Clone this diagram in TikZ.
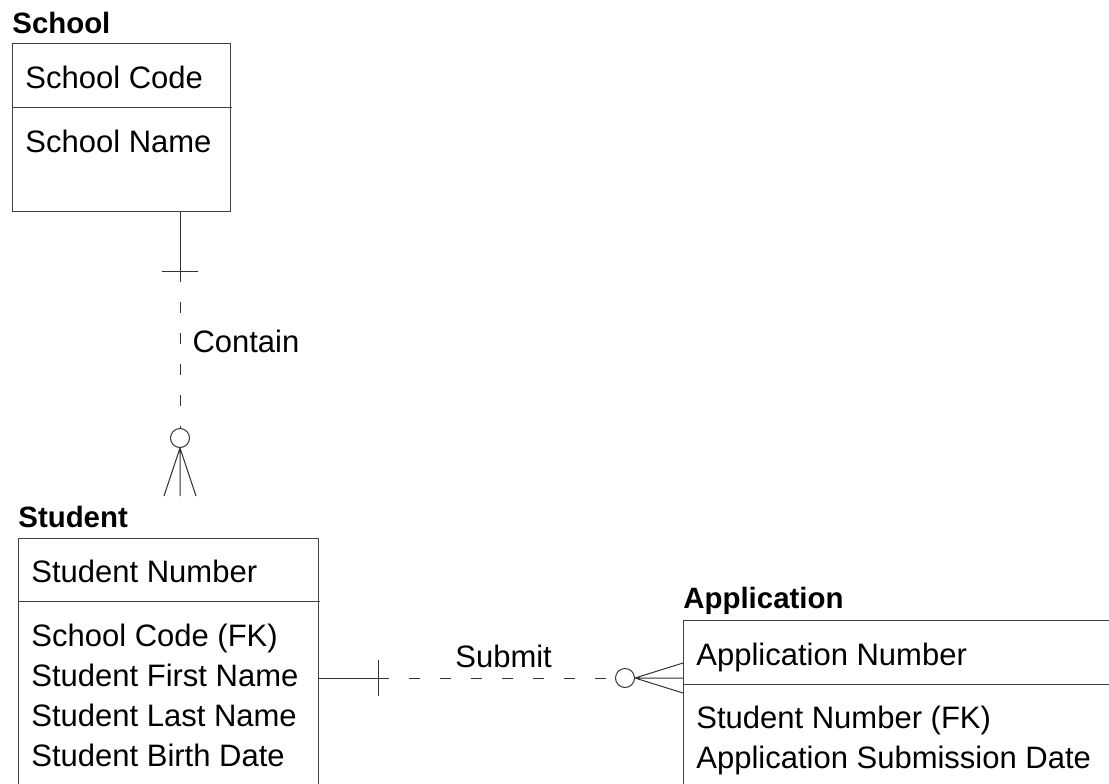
\documentclass[tikz,border=0pt]{standalone}
\usepackage{fontspec}
\setmainfont{Liberation Sans}
\usetikzlibrary{positioning}

\begin{document}
\begin{tikzpicture}[x=0.5pt, y=-0.5pt, every node/.style={font=\fontsize{15.5}{18}\selectfont}]

  \tikzstyle{entity}=[draw=black!75, line width=0.5pt, anchor=north west, inner sep=0pt]
  \tikzstyle{entname}=[anchor=base west, inner sep=0pt, font=\bfseries\fontsize{14.7}{17}\selectfont]
  \tikzstyle{attr}=[anchor=base west, inner sep=0pt]
  \tikzstyle{rel}=[draw=black!80, line width=0.5pt]
  \tikzstyle{link}=[rel, dash pattern=on 5.5pt off 10pt]
  \tikzstyle{ring}=[rel, circle, minimum size=9.5pt, inner sep=0pt, fill=white]

  \useasboundingbox (0,0) rectangle (1109,783);
  \clip (0,0) rectangle (1109,783);

  \node [entity, minimum width=109pt, minimum height=84pt] (school) at (12,43) {};
  \node [entity, minimum width=150pt, minimum height=130pt] (student) at (18,538) {};
  \node [entity, minimum width=220pt, minimum height=100pt] (application) at (683,620) {};

  \node [entname] (school-title) at ([yshift=5pt]school.north west) {School};
  \node [entname] (student-title) at ([yshift=5.5pt]student.north west) {Student};
  \node [entname] (application-title) at ([yshift=6pt]application.north west) {Application};

  \draw [entity] ([yshift=-32pt]school.north west) -- ++(220,0);
  \draw [entity] ([yshift=-31.5pt]student.north west) -- ++(302,0);
  \draw [entity] ([yshift=-32pt]application.north west) -- ++(440,0);

  \node [attr] (school-key) at ([xshift=6.5pt, yshift=-22.5pt]school.north west) {School Code};
  \node [attr] (school-att-1) at ([xshift=6.5pt, yshift=-54.5pt]school.north west) {School Name};

  \node [attr] (student-key) at ([xshift=6.5pt, yshift=-22pt]student.north west) {Student Number};
  \foreach \t [count=\i] in {School Code (FK), Student First Name, Student Last Name, Student Birth Date} {
    \node [attr] (student-att-\i) at ([xshift=6.5pt, yshift={-54pt-20pt*(\i-1)}]student.north west) {\t};
  }

  \node [attr] (application-key) at ([xshift=6.5pt, yshift=-22.5pt]application.north west) {Application Number};
  \foreach \t [count=\i] in {Student Number (FK), Application Submission Date} {
    \node [attr] (application-att-\i) at ([xshift=6.5pt, yshift={-54pt-20pt*(\i-1)}]application.north west) {\t};
  }

  \coordinate (contain-a) at ([xshift=84pt]school.south west);
  \coordinate (contain-b) at ([xshift=81pt, yshift=21pt]student.north west);
  \node [ring] (contain-o) at ([yshift=29pt]contain-b) {};

  \draw [rel] (contain-a) -- ++(0,59) coordinate (contain-bar) ++(-18,0) -- ++(36,0);
  \draw [link] (contain-bar) -- (contain-o) node [pos=0.45, right=6pt, inner sep=0pt] {Contain};
  \draw [rel] (contain-o.south) -- (contain-b)
    (contain-o.south) -- ([xshift=-8pt]contain-b)
    (contain-o.south) -- ([xshift=8pt]contain-b);

  \coordinate (submit-a) at ([yshift=-70pt]student.north east);
  \coordinate (submit-b) at ([yshift=-29pt]application.north west);
  \node [ring] (submit-o) at ([xshift=-29pt]submit-b) {};

  \draw [rel] (submit-a) -- ++(59,0) coordinate (submit-bar) ++(0,-18) -- ++(0,36);
  \draw [link] (submit-bar) -- (submit-o) node [pos=0.53, above=5pt, inner sep=0pt] {Submit};
  \draw [rel] (submit-o.east) -- (submit-b)
    (submit-o.east) -- ([yshift=7.5pt]submit-b)
    (submit-o.east) -- ([yshift=-7.5pt]submit-b);

\end{tikzpicture}
\end{document}
